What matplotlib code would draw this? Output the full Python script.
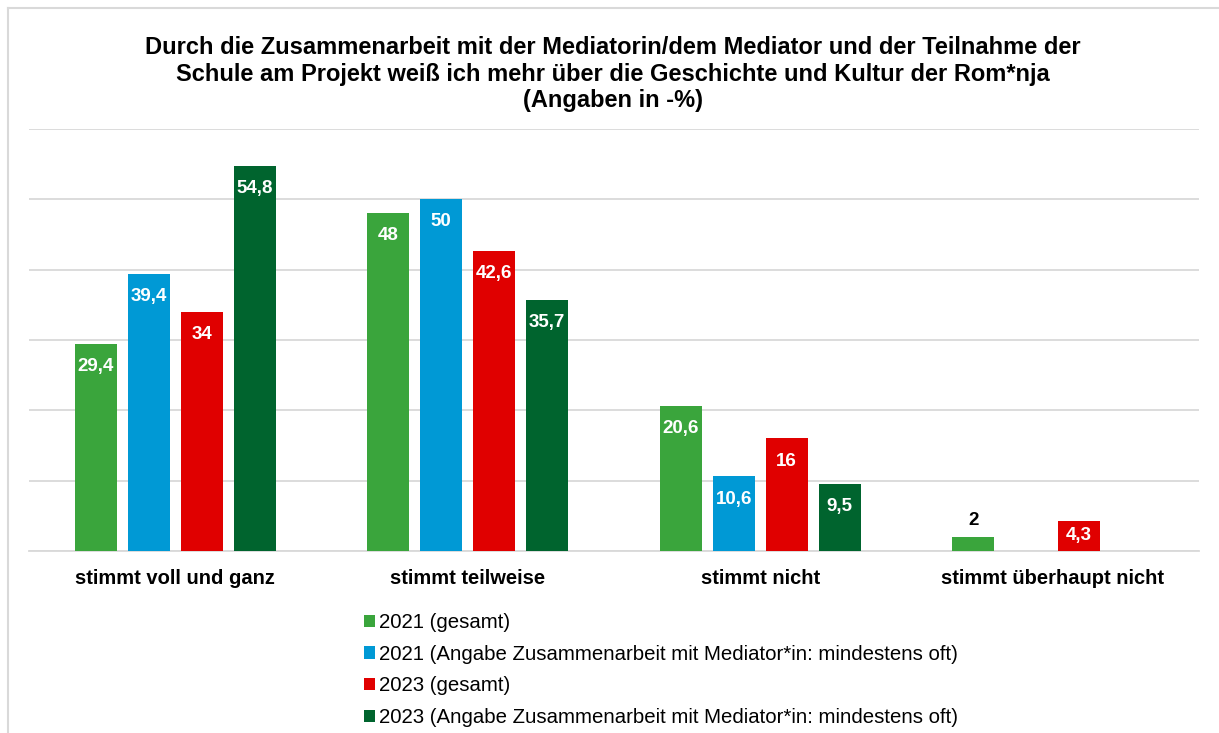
import numpy as np
import matplotlib.pyplot as plt
from matplotlib.patches import Patch
from matplotlib.lines import Line2D

plt.rcParams['font.family'] = ['Liberation Sans', 'DejaVu Sans']

categories = ['stimmt voll und ganz', 'stimmt teilweise', 'stimmt nicht', 'stimmt überhaupt nicht']
series_names = ['2021 (gesamt)',
                '2021 (Angabe Zusammenarbeit mit Mediator*in: mindestens oft)',
                '2023 (gesamt)',
                '2023 (Angabe Zusammenarbeit mit Mediator*in: mindestens oft)']
v2021 = [29.4, 48, 20.6, 2]
v2021_med = [39.4, 50, 10.6, None]
v2023 = [34, 42.6, 16, 4.3]
v2023_med = [54.8, 35.7, 9.5, None]
values = [v2021, v2021_med, v2023, v2023_med]
colors = ['#3aa53c', '#0099d5', '#e00000', '#00642e']

fig = plt.figure(figsize=(12.19, 7.33), dpi=100)
ax = fig.add_axes([29/1219, 1-551/733, 1170/1219, 422/733])

x = np.arange(len(categories))
width = 0.144
step = 0.181
for i, (vals, col) in enumerate(zip(values, colors)):
    for j, v in enumerate(vals):
        if v is None:
            continue
        xi = x[j] + (i - 1.5) * step
        ax.bar(xi, v, width, color=col, zorder=3)
        txt = ('%g' % v).replace('.', ',')
        if v < 3:
            # bar too short: label above it
            ax.text(xi, v + 1.1, txt, ha='center', va='bottom', fontsize=13.5,
                    fontweight='bold', color='black')
        elif v < 8:
            ax.text(xi, v / 2, txt, ha='center', va='center', fontsize=13.5,
                    fontweight='bold', color='white', zorder=4)
        else:
            ax.text(xi, v - 2.0, txt, ha='center', va='top', fontsize=13.5,
                    fontweight='bold', color='white', zorder=4)

ax.set_xlim(-0.5, 3.5)
ax.set_ylim(0, 60)
ax.set_yticks(np.arange(0, 61, 10))
ax.yaxis.grid(True, color='#d9d9d9', linewidth=1.3, zorder=0)
ax.set_yticklabels([])
ax.tick_params(axis='both', length=0)
ax.set_xticks(x)
ax.set_xticklabels(categories, fontsize=14.5, fontweight='bold')
ax.tick_params(axis='x', pad=13)
for s in ['top', 'right', 'left']:
    ax.spines[s].set_visible(False)
ax.spines['bottom'].set_color('#d9d9d9')
ax.spines['bottom'].set_linewidth(1.3)

fig.text(0.503, 1-36/733,
         'Durch die Zusammenarbeit mit der Mediatorin/dem Mediator und der Teilnahme der\n'
         'Schule am Projekt weiß ich mehr über die Geschichte und Kultur der Rom*nja\n'
         '(Angaben in -%)', ha='center', va='top', fontsize=17, fontweight='bold',
         linespacing=1.2)

handles = [Patch(facecolor=c, edgecolor='none') for c in colors]
fig.legend(handles, series_names, loc='upper left', bbox_to_anchor=(364/1219, 1-613/733),
           frameon=False, fontsize=14.7, handlelength=0.55, handleheight=0.55,
           handletextpad=0.2, labelspacing=0.62, borderaxespad=0, borderpad=0)

# light frame on top and left
fig.add_artist(Line2D([8/1219, 8/1219], [0, 1-8/733], color='#d9d9d9', linewidth=1.5))
fig.add_artist(Line2D([8/1219, 1], [1-8/733, 1-8/733], color='#d9d9d9', linewidth=1.5))

fig.savefig('out.png', dpi=100)
